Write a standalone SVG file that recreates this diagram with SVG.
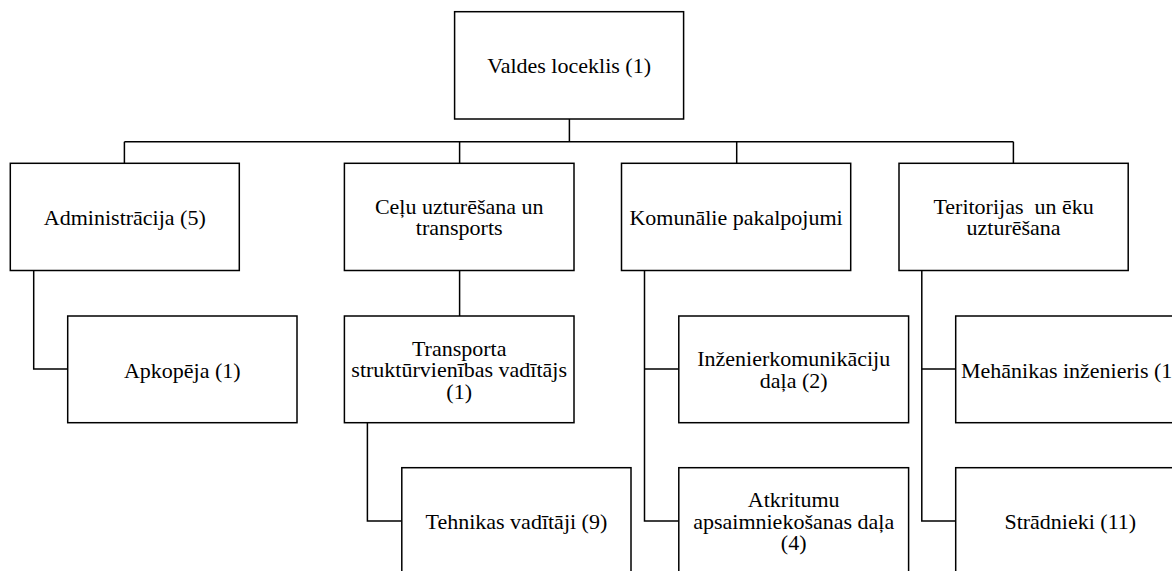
<svg xmlns="http://www.w3.org/2000/svg" width="1172" height="571" viewBox="0 0 1172 571">
<style>
.box{fill:#fff;stroke:#000;stroke-width:1.5}
.lbl{font-family:"Liberation Serif","Times New Roman",serif;font-size:22px;fill:#000;text-anchor:middle;white-space:pre}
.con{fill:none;stroke:#000;stroke-width:1.5}
</style>
<rect width="1172" height="571" fill="#fff"/>
<g id="connectors">
<path class="con" d="M569.4,119 V141.7 M124.4,141.7 H1013.4 M124.4,141.7 V163.3 M459.6,141.7 V163.3 M736.7,141.7 V163.3 M1013.4,141.7 V163.3"/>
<path class="con" d="M33.7,270.5 V369 H67.7"/>
<path class="con" d="M459.6,270.5 V316"/>
<path class="con" d="M367.4,422.7 V521 H401.8"/>
<path class="con" d="M644.5,270.5 V521 H678.8 M644.5,369 H678.8"/>
<path class="con" d="M921.8,270.5 V521 H955.7 M921.8,369 H955.7"/>
</g>
<g id="valdes">
<rect class="box" x="454.6" y="11.7" width="229" height="107.3"/>
<text class="lbl" x="569.1" y="73">Valdes loceklis (1)</text>
</g>
<g id="administracija">
<rect class="box" x="10.3" y="163.3" width="229" height="107.2"/>
<text class="lbl" x="124.8" y="225">Administrācija (5)</text>
</g>
<g id="celu">
<rect class="box" x="344.4" y="163.3" width="229.6" height="107.2"/>
<text class="lbl" x="459.2" y="213.5">Ceļu uzturēšana un</text>
<text class="lbl" x="459.2" y="235">transports</text>
</g>
<g id="komunalie">
<rect class="box" x="621.5" y="163.3" width="229.2" height="107.2"/>
<text class="lbl" x="736.1" y="225">Komunālie pakalpojumi</text>
</g>
<g id="teritorijas">
<rect class="box" x="899" y="163.3" width="229.2" height="107.2"/>
<text class="lbl" x="1013.6" y="213.5">Teritorijas  un ēku</text>
<text class="lbl" x="1013.6" y="235">uzturēšana</text>
</g>
<g id="apkopeja">
<rect class="box" x="67.7" y="316" width="229.3" height="106.7"/>
<text class="lbl" x="182.3" y="377.5">Apkopēja (1)</text>
</g>
<g id="transporta">
<rect class="box" x="344.4" y="316" width="229.6" height="106.7"/>
<text class="lbl" x="459.2" y="355.5">Transporta</text>
<text class="lbl" x="459.2" y="377">struktūrvienības vadītājs</text>
<text class="lbl" x="459.2" y="398.5">(1)</text>
</g>
<g id="tehnikas">
<rect class="box" x="401.8" y="467.7" width="229.2" height="107"/>
<text class="lbl" x="516.4" y="528.5">Tehnikas vadītāji (9)</text>
</g>
<g id="inzenier">
<rect class="box" x="678.8" y="316" width="229.8" height="106.7"/>
<text class="lbl" x="793.7" y="366">Inženierkomunikāciju</text>
<text class="lbl" x="793.7" y="387.5">daļa (2)</text>
</g>
<g id="atkritumu">
<rect class="box" x="678.8" y="467.7" width="229.8" height="107"/>
<text class="lbl" x="793.7" y="507">Atkritumu</text>
<text class="lbl" x="793.7" y="528.5">apsaimniekošanas daļa</text>
<text class="lbl" x="793.7" y="550">(4)</text>
</g>
<g id="mehanikas">
<rect class="box" x="955.7" y="316" width="229.3" height="106.7"/>
<text class="lbl" x="1070.3" y="377.5">Mehānikas inženieris (1)</text>
</g>
<g id="stradnieki">
<rect class="box" x="955.7" y="467.7" width="229.3" height="107"/>
<text class="lbl" x="1070.3" y="528.5">Strādnieki (11)</text>
</g>
</svg>
